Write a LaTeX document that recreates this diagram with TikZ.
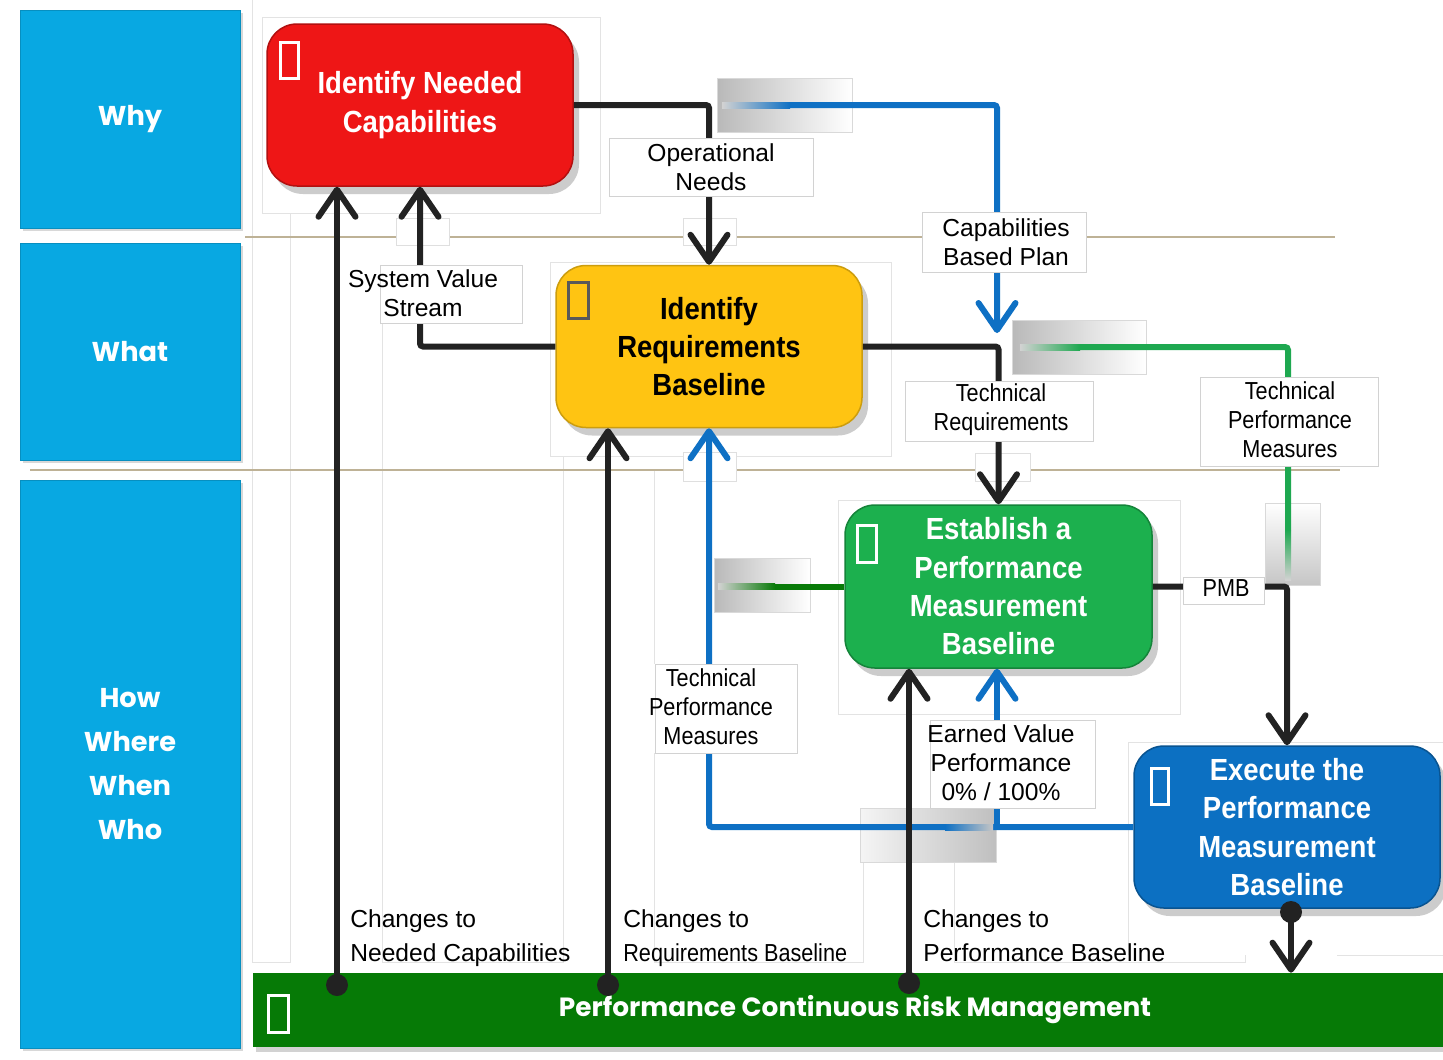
\documentclass[tikz,border=0pt]{standalone}
\usepackage{fontspec}
\setmainfont{Liberation Sans}
\newfontfamily\titlefont[FakeStretch=0.9]{Liberation Sans}
\newfontfamily\narrowfont[FakeStretch=0.88]{Liberation Sans}
\newfontfamily\gothicfont{Poppins}
\usetikzlibrary{arrows.meta,shadows,calc}

\definecolor{colcyan}{RGB}{8,168,226}
\definecolor{colred}{RGB}{238,22,22}
\definecolor{colyellow}{RGB}{255,196,18}
\definecolor{colgreen}{RGB}{28,176,78}
\definecolor{colblue}{RGB}{12,112,194}
\definecolor{colbar}{RGB}{6,122,6}
\definecolor{linedark}{RGB}{34,34,34}
\definecolor{lineblue}{RGB}{14,112,196}
\definecolor{linegreen}{RGB}{30,168,80}
\definecolor{linedkgreen}{RGB}{8,122,8}
\definecolor{tanrule}{RGB}{190,178,150}

\newdimen\pxu
\pxu=0.02cm

\tikzset{
  stage/.style={rounded corners=30\pxu, minimum width=306\pxu, minimum height=162\pxu,
    inner sep=0pt, align=center, line width=1.5\pxu,
    font=\titlefont\bfseries\fontsize{17.4}{21.8}\selectfont,
    drop shadow={opacity=0.4, shadow xshift=6\pxu, shadow yshift=-8\pxu}},
  lane/.style={fill=colcyan, draw=colcyan!85!black, line width=1\pxu, minimum width=220\pxu,
    inner sep=0pt, align=center, text=white,
    font=\gothicfont\bfseries\fontsize{15.5}{25}\selectfont,
    drop shadow={opacity=0.3, shadow xshift=3\pxu, shadow yshift=-3\pxu}},
  lblframe/.style={fill=white, draw=gray!35, line width=1\pxu, inner sep=0pt},
  lbltext/.style={inner sep=0pt, align=center, font=\fontsize{14}{16.5}\selectfont},
  lblnarrow/.style={inner sep=0pt, align=center, font=\narrowfont\fontsize{14}{16.5}\selectfont},
  chlabel/.style={inner sep=0pt, anchor=base west, align=left, font=\fontsize{14}{19.3}\selectfont},
  flow/.style={line width=0.12cm, draw=linedark, rounded corners=0.06cm},
  tip/.style={-{Straight Barb[length=0.54cm, width=0.74cm, round]}},
  faintline/.style={draw=gray!22, line width=0.02cm},
  tanline/.style={draw=tanrule, line width=0.04cm},
  icon/.style={line width=0.06cm},
  dot/.style={circle, fill=linedark, inner sep=0pt, minimum size=0.44cm},
  fadebox/.style={draw=gray!30, line width=0.02cm},
  tipbox/.style={fill=white, draw=gray!25, line width=0.02cm},
}

\begin{document}
\begin{tikzpicture}[x=0.02cm, y=-0.02cm]
\useasboundingbox (0,0) rectangle (1443,1059);
\fill[white] (0,0) rectangle (1443,1059);

% faint guide lines of the layout grid
\draw[faintline] (252,0) -- (252,962) -- (290,962) -- (290,213);
\draw[faintline] (382,323) -- (382,962) -- (563,962) -- (563,456) -- (550,456);
\draw[faintline] (654,470) -- (654,664);
\draw[faintline] (654,753) -- (654,962) -- (863,962) -- (863,862);
\draw[faintline] (954,862) -- (954,962) -- (1245,962) -- (1245,955);
\draw[faintline] (1337,955) -- (1443,955);

% lane rules
\draw[tanline] (245,237) -- (1335,237);
\draw[tanline] (30,470) -- (1340,470);

% faint frames behind the stages
\draw[faintline] (262,17) rectangle (600,213);
\draw[faintline] (550,262) rectangle (891,456);
\draw[faintline] (838,500) rectangle (1180,714);
\draw[faintline] (1128,742) -- (1443,742);
\draw[faintline] (1128,742) -- (1128,955);

% small frames around the arrow tips
\draw[tipbox] (683,218) rectangle (736,245);
\draw[tipbox] (396,218) rectangle (449,245);
\draw[tipbox] (975,453) rectangle (1030,481);
\draw[tipbox] (683,452) rectangle (736,481);

% fading boxes
\shade[left color=gray!55, right color=white] (717,78) rectangle (852,132);
\draw[fadebox] (717,78) rectangle (852,132);
\shade[left color=gray!55, right color=white] (1012,320) rectangle (1146,374);
\draw[fadebox] (1012,320) rectangle (1146,374);
\shade[top color=white, bottom color=gray!45] (1265,503) rectangle (1320,585);
\draw[fadebox] (1265,503) rectangle (1320,585);
\shade[left color=gray!55, right color=white] (714,558) rectangle (810,612);
\draw[fadebox] (714,558) rectangle (810,612);
\shade[left color=gray!8, right color=gray!50] (860,808) rectangle (996,862);
\draw[fadebox] (860,808) rectangle (996,862);

% lanes
\node[lane, minimum height=218\pxu] (why) at (130,119) {Why};
\node[lane, minimum height=217\pxu] (what) at (130,351.5) {What};
\node[lane, minimum height=568\pxu] (how) at (130,764) {How\\Where\\When\\Who};

% stages
\node[stage, fill=colred, draw=colred!75!black, text=white] (cap) at (420,105)
  {Identify Needed\\Capabilities};
\node[stage, fill=colyellow, draw=colyellow!80!black, text=black] (req) at (709,346.5)
  {Identify\\Requirements\\Baseline};
\node[stage, fill=colgreen, draw=colgreen!75!black, text=white, minimum width=307\pxu, minimum height=163\pxu] (pmb) at (998.5,586.5)
  {Establish a\\Performance\\Measurement\\Baseline};
\node[stage, fill=colblue, draw=colblue!75!black, text=white] (exe) at (1287,827)
  {Execute the\\Performance\\Measurement\\Baseline};
\node[fill=colbar, minimum width=1190\pxu, minimum height=74\pxu, inner sep=0pt,
  text=white, font=\gothicfont\bfseries\fontsize{15}{18}\selectfont,
  drop shadow={opacity=0.35, shadow xshift=3\pxu, shadow yshift=-5\pxu}] (bar) at (848,1010)
  {\hspace*{14\pxu}Performance Continuous Risk Management};

% icons
\draw[icon, white] (280,42) rectangle (298,78);
\draw[icon, gray!70!black] (568,282) rectangle (588,318);
\draw[icon, white] (857,525) rectangle (876,562);
\draw[icon, white] (1151,768) rectangle (1168,804);
\draw[icon, white] (268,995) rectangle (288,1032);

% free ends of the faded connectors
\coordinate (cbpA) at (790,105);
\coordinate (cbpB) at (997,333);
\coordinate (tpmA) at (1080,347);
\coordinate (tpmB) at (1288,530);
\coordinate (tpmL) at (775,586.5);
\coordinate (ev) at (997,827);

% black flows
\draw[flow, tip] (cap.east) -| (req.north);
\draw[flow, tip] (req.west) -| (cap.south);
\draw[flow, tip] (req.east) -| (pmb.north);
\draw[flow, tip] (pmb.east) -| (exe.north);

% coloured flows
\draw[flow, draw=lineblue, tip] (cbpA) -| (cbpB);
\shade[left color=gray!35, right color=lineblue] (722,102) rectangle (790,108);
\draw[flow, draw=linegreen] (tpmA) -| (tpmB);
\shade[left color=gray!35, right color=linegreen] (1020,344) rectangle (1080,350);
\shade[top color=linegreen, bottom color=gray!35] (1285,530) rectangle (1291,580);
\draw[flow, draw=linedkgreen] (pmb.west) -- (tpmL);
\shade[left color=gray!35, right color=linedkgreen] (718,583.5) rectangle (775,589.5);
\draw[flow, draw=lineblue, tip] (exe.west) -| (req.south);
\shade[left color=lineblue, right color=gray!45] (945,824) rectangle (993,830);
\draw[flow, draw=lineblue, tip] (ev) -- (ev |- pmb.south);

% change risers from the risk bar
\node[dot] (d1) at (337,985) {};
\node[dot] (d2) at (608,985) {};
\node[dot] (d3) at (909,983) {};
\node[dot] (d4) at (1291,912) {};
\draw[flow, tip] (d1.center) -- (d1 |- cap.south);
\draw[flow, tip] (d2.center) -- (d2 |- req.south);
\draw[flow, tip] (d3.center) -- (d3 |- pmb.south);
\draw[flow, tip] (d4.center) -- (d4 |- bar.north);

% connector labels
\node[lblframe, minimum width=204\pxu, minimum height=58\pxu] (onf) at (711,167) {};
\node[lbltext] (on) at (711,167) {Operational\\Needs};
\node[lblframe, minimum width=164\pxu, minimum height=60\pxu] (cbpf) at (1004,242) {};
\node[lbltext] (cbp) at (1006,242) {Capabilities\\Based Plan};
\node[lblframe, minimum width=142\pxu, minimum height=58\pxu] (svsf) at (451,294) {};
\node[lbltext] (svs) at (423,293) {System Value\\Stream};
\node[lblframe, minimum width=188\pxu, minimum height=60\pxu] (trf) at (999,411) {};
\node[lblnarrow] (tr) at (1001,410) {Technical\\Requirements};
\node[lblframe, minimum width=178\pxu, minimum height=89\pxu] (tpmrf) at (1289,421.5) {};
\node[lblnarrow] (tpmr) at (1290,420) {Technical\\Performance\\Measures};
\node[lblframe, minimum width=81\pxu, minimum height=27\pxu] (pmblf) at (1223.5,590.5) {};
\node[lblnarrow] (pmbl) at (1226,588) {PMB};
\node[lblframe, minimum width=142\pxu, minimum height=89\pxu] (tpmlf) at (726,708.5) {};
\node[lblnarrow] (tpml) at (711,707) {Technical\\Performance\\Measures};
\node[lblframe, minimum width=165\pxu, minimum height=88\pxu] (evf) at (1012.5,764) {};
\node[lbltext] (evl) at (1001,763) {Earned Value\\Performance\\0\% / 100\%};

\node[chlabel] (ch1) at (350,961) {Changes to\\Needed Capabilities};
\node[chlabel] (ch2) at (623,961) {Changes to\\{\narrowfont Requirements Baseline}};
\node[chlabel] (ch3) at (923,961) {Changes to\\Performance Baseline};
\end{tikzpicture}
\end{document}
